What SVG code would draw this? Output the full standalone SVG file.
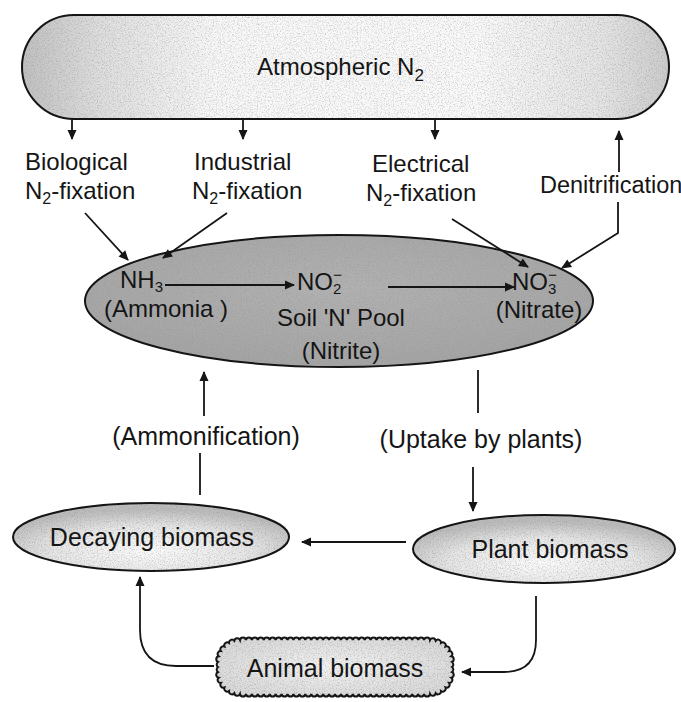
<svg xmlns="http://www.w3.org/2000/svg" width="681" height="702" viewBox="0 0 681 702">
<defs>
<style>
text{font-family:"Liberation Sans",Arial,sans-serif;fill:#151515}
.l{font-size:24px}
.b{font-size:25px}
.c{stroke:#151515;stroke-width:1.8;fill:none}
.a{marker-end:url(#ah)}
.fillonly{stroke:none;filter:url(#grain)}
.edge{fill:none;stroke:#151515;stroke-width:2}
</style>
<marker id="ah" viewBox="0 0 10 10" refX="9" refY="5" markerWidth="11" markerHeight="10" markerUnits="userSpaceOnUse" orient="auto">
<path d="M0,0.5 L10,5 L0,9.5 z" fill="#151515"/>
</marker>
<filter id="grain" x="0" y="0" width="1" height="1">
<feTurbulence type="fractalNoise" baseFrequency="0.75" numOctaves="2" seed="5" result="n"/>
<feColorMatrix in="n" type="matrix" values="0 0 0 0 0.3  0 0 0 0 0.3  0 0 0 0 0.3  0 0 0 1.5 -0.68" result="spk"/>
<feComposite in="spk" in2="SourceGraphic" operator="in" result="spk2"/>
<feMerge><feMergeNode in="SourceGraphic"/><feMergeNode in="spk2"/></feMerge>
</filter>
<linearGradient id="gTop" x1="0" y1="0" x2="1" y2="0">
<stop offset="0" stop-color="#c0c0c0"/>
<stop offset="0.12" stop-color="#dedede"/>
<stop offset="0.3" stop-color="#f8f8f8"/>
<stop offset="0.7" stop-color="#fafafa"/>
<stop offset="0.9" stop-color="#e4e4e4"/>
<stop offset="1" stop-color="#cccccc"/>
</linearGradient>
<radialGradient id="gMid" cx="0.5" cy="0.4" r="0.6">
<stop offset="0" stop-color="#b2b2b2"/>
<stop offset="1" stop-color="#a4a4a4"/>
</radialGradient>
<radialGradient id="gBio" cx="0.5" cy="0.7" r="0.6">
<stop offset="0" stop-color="#fcfcfc"/>
<stop offset="0.6" stop-color="#e6e6e6"/>
<stop offset="1" stop-color="#bcbcbc"/>
</radialGradient>
<radialGradient id="gAni" cx="0.5" cy="0.5" r="0.6">
<stop offset="0" stop-color="#f2f2f2"/>
<stop offset="1" stop-color="#d8d8d8"/>
</radialGradient>
<path id="aniShape" d="M240,640
a3,3 0 0 1 5.9375,0 a3,3 0 0 1 5.9375,0 a3,3 0 0 1 5.9375,0 a3,3 0 0 1 5.9375,0 a3,3 0 0 1 5.9375,0 a3,3 0 0 1 5.9375,0 a3,3 0 0 1 5.9375,0 a3,3 0 0 1 5.9375,0
a3,3 0 0 1 5.9375,0 a3,3 0 0 1 5.9375,0 a3,3 0 0 1 5.9375,0 a3,3 0 0 1 5.9375,0 a3,3 0 0 1 5.9375,0 a3,3 0 0 1 5.9375,0 a3,3 0 0 1 5.9375,0 a3,3 0 0 1 5.9375,0
a3,3 0 0 1 5.9375,0 a3,3 0 0 1 5.9375,0 a3,3 0 0 1 5.9375,0 a3,3 0 0 1 5.9375,0 a3,3 0 0 1 5.9375,0 a3,3 0 0 1 5.9375,0 a3,3 0 0 1 5.9375,0 a3,3 0 0 1 5.9375,0
a3,3 0 0 1 5.9375,0 a3,3 0 0 1 5.9375,0 a3,3 0 0 1 5.9375,0 a3,3 0 0 1 5.9375,0 a3,3 0 0 1 5.9375,0 a3,3 0 0 1 5.9375,0 a3,3 0 0 1 5.9375,0 a3,3 0 0 1 5.9375,0
a3,3 0 0 1 5.69,0.75 a3,3 0 0 1 5.31,2.2 a3,3 0 0 1 4.56,3.49 a3,3 0 0 1 3.49,4.56 a3,3 0 0 1 2.2,5.31 a3,3 0 0 1 0.75,5.69
a3,3 0 0 1 0,5 a3,3 0 0 1 0,5
a3,3 0 0 1 -0.75,5.69 a3,3 0 0 1 -2.2,5.31 a3,3 0 0 1 -3.49,4.56 a3,3 0 0 1 -4.56,3.49 a3,3 0 0 1 -5.31,2.2 a3,3 0 0 1 -5.69,0.75
a3,3 0 0 1 -5.9375,0 a3,3 0 0 1 -5.9375,0 a3,3 0 0 1 -5.9375,0 a3,3 0 0 1 -5.9375,0 a3,3 0 0 1 -5.9375,0 a3,3 0 0 1 -5.9375,0 a3,3 0 0 1 -5.9375,0 a3,3 0 0 1 -5.9375,0
a3,3 0 0 1 -5.9375,0 a3,3 0 0 1 -5.9375,0 a3,3 0 0 1 -5.9375,0 a3,3 0 0 1 -5.9375,0 a3,3 0 0 1 -5.9375,0 a3,3 0 0 1 -5.9375,0 a3,3 0 0 1 -5.9375,0 a3,3 0 0 1 -5.9375,0
a3,3 0 0 1 -5.9375,0 a3,3 0 0 1 -5.9375,0 a3,3 0 0 1 -5.9375,0 a3,3 0 0 1 -5.9375,0 a3,3 0 0 1 -5.9375,0 a3,3 0 0 1 -5.9375,0 a3,3 0 0 1 -5.9375,0 a3,3 0 0 1 -5.9375,0
a3,3 0 0 1 -5.9375,0 a3,3 0 0 1 -5.9375,0 a3,3 0 0 1 -5.9375,0 a3,3 0 0 1 -5.9375,0 a3,3 0 0 1 -5.9375,0 a3,3 0 0 1 -5.9375,0 a3,3 0 0 1 -5.9375,0 a3,3 0 0 1 -5.9375,0
a3,3 0 0 1 -5.69,-0.75 a3,3 0 0 1 -5.31,-2.2 a3,3 0 0 1 -4.56,-3.49 a3,3 0 0 1 -3.49,-4.56 a3,3 0 0 1 -2.2,-5.31 a3,3 0 0 1 -0.75,-5.69
a3,3 0 0 1 0,-5 a3,3 0 0 1 0,-5
a3,3 0 0 1 0.75,-5.69 a3,3 0 0 1 2.2,-5.31 a3,3 0 0 1 3.49,-4.56 a3,3 0 0 1 4.56,-3.49 a3,3 0 0 1 5.31,-2.2 a3,3 0 0 1 5.69,-0.75 Z"/>
</defs>
<rect width="681" height="702" fill="#ffffff"/>

<g id="atmospheric-n2">
<rect class="fillonly" x="22" y="15" width="647" height="104" rx="52" ry="52" fill="url(#gTop)"/>
<rect class="edge" x="22" y="15" width="647" height="104" rx="52" ry="52"/>
<text class="l" x="257" y="75">Atmospheric N<tspan dy="6" font-size="17">2</tspan></text>
</g>

<g id="biological-label">
<text class="l" x="25" y="170">Biological</text>
<text class="l" x="25" y="199">N<tspan dy="5" font-size="16">2</tspan><tspan dy="-5">-fixation</tspan></text>
</g>
<g id="industrial-label">
<text class="l" x="194" y="170">Industrial</text>
<text class="l" x="192" y="199">N<tspan dy="5" font-size="16">2</tspan><tspan dy="-5">-fixation</tspan></text>
</g>
<g id="electrical-label">
<text class="l" x="372" y="172">Electrical</text>
<text class="l" x="366" y="201">N<tspan dy="5" font-size="16">2</tspan><tspan dy="-5">-fixation</tspan></text>
</g>
<g id="denitrification-label">
<text x="540" y="193" style="font-size:23.5px">Denitrification</text>
</g>

<g id="soil-n-pool">
<ellipse class="fillonly" cx="339" cy="301" rx="254" ry="66" fill="url(#gMid)"/>
<ellipse class="edge" cx="339" cy="301" rx="254" ry="66"/>
<text class="l" x="120" y="288">NH<tspan dy="4" font-size="15">3</tspan></text>
<text class="l" x="104" y="317">(Ammonia )</text>
<text class="l" x="297" y="290">NO<tspan dy="4" font-size="15">2</tspan><tspan dx="-8" dy="-14" font-size="15">−</tspan></text>
<text class="l" x="341" y="326" text-anchor="middle">Soil 'N' Pool</text>
<text class="l" x="341" y="359" text-anchor="middle">(Nitrite)</text>
<text class="l" x="512" y="290">NO<tspan dy="4" font-size="15">3</tspan><tspan dx="-8" dy="-14" font-size="15">−</tspan></text>
<text class="l" x="539" y="318" text-anchor="middle">(Nitrate)</text>
</g>

<g id="ammonification-label">
<text class="b" x="206" y="445" text-anchor="middle">(Ammonification)</text>
</g>
<g id="uptake-label">
<text class="b" x="481" y="448" text-anchor="middle">(Uptake by plants)</text>
</g>

<g id="decaying-biomass">
<ellipse class="fillonly" cx="151" cy="537" rx="138" ry="34" fill="url(#gBio)"/>
<ellipse class="edge" cx="151" cy="537" rx="138" ry="34"/>
<text class="b" x="152" y="546" text-anchor="middle">Decaying biomass</text>
</g>

<g id="plant-biomass">
<ellipse class="fillonly" cx="544" cy="549" rx="131" ry="34" fill="url(#gBio)"/>
<ellipse class="edge" cx="544" cy="549" rx="131" ry="34"/>
<text class="b" x="550" y="558" text-anchor="middle">Plant biomass</text>
</g>

<g id="animal-biomass">
<use href="#aniShape" class="fillonly" fill="url(#gAni)"/>
<use href="#aniShape" class="edge"/>
<text class="b" x="335" y="677" text-anchor="middle">Animal biomass</text>
</g>

<g id="connectors">
<line class="c a" x1="72" y1="119" x2="72" y2="139"/>
<line class="c a" x1="243" y1="119" x2="243" y2="139"/>
<line class="c a" x1="435" y1="119" x2="435" y2="139"/>
<line class="c a" x1="619" y1="172" x2="619" y2="131"/>
<line class="c a" x1="85" y1="213" x2="128" y2="260"/>
<line class="c a" x1="227" y1="213" x2="163" y2="258"/>
<line class="c a" x1="452" y1="219" x2="528" y2="267"/>
<polyline class="c a" points="618,202 618,233 562,268"/>
<line class="c a" x1="165" y1="285" x2="294" y2="285"/>
<line class="c a" x1="388" y1="287" x2="514" y2="287"/>
<line class="c a" x1="204" y1="416" x2="204" y2="372"/>
<line class="c" x1="200" y1="453" x2="200" y2="495"/>
<line class="c" x1="478" y1="370" x2="478" y2="413"/>
<line class="c a" x1="473" y1="467" x2="473" y2="511"/>
<line class="c a" x1="406" y1="542" x2="302" y2="542"/>
<path class="c a" d="M536,596 L536,640 Q536,672 504,672 L462,672"/>
<path class="c a" d="M214,666 L176,666 Q140,666 140,630 L140,577"/>
</g>
</svg>
